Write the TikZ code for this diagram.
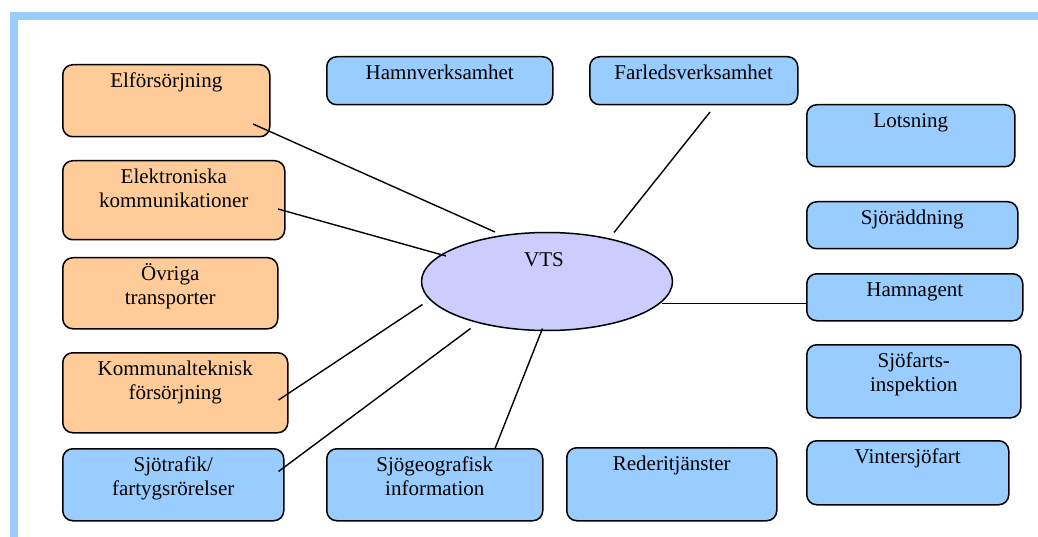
\documentclass[tikz,border=0pt]{standalone}
\usepackage{fontspec}
\setmainfont{Liberation Serif}
\usetikzlibrary{shapes.geometric,calc}
\definecolor{bandblue}{HTML}{99CCFF}
\definecolor{boxblue}{HTML}{99CCFF}
\definecolor{boxorange}{HTML}{FFCC99}
\definecolor{vtsfill}{HTML}{CCCCFF}
\newcommand{\mkbox}[7]{%
  \pgfmathsetmacro{\mkW}{#4-#2}\pgfmathsetmacro{\mkH}{#5-#3}%
  \node[rbox, fill=#6, anchor=north west, minimum width=\mkW pt, minimum height=\mkH pt] (#1) at (#2,#3) {};
  \node[lbl, anchor=north] (#1-t) at ($(#1.north)+(0,6.2)$) {\strut #7};
}
\begin{document}
\begin{tikzpicture}[x=1pt,y=-1pt,
  rbox/.style={draw=black, line width=1.5pt, rounded corners=10pt, inner sep=0pt},
  lbl/.style={font=\fontsize{21}{24}\selectfont, align=center, inner sep=0pt},
  conn/.style={draw=black, line width=1.4pt}]
\useasboundingbox (0,0) rectangle (1038,537);
\fill[white] (0,0) rectangle (1038,537);
\fill[bandblue] (10,12) rectangle (1038,20);
\fill[bandblue] (10,12) rectangle (18,537);

\mkbox{elf}{62}{64}{269}{136}{boxorange}{Elförsörjning}
\mkbox{hamn}{326}{56}{552}{104}{boxblue}{Hamnverksamhet}
\mkbox{farled}{589}{56}{797}{104}{boxblue}{Farledsverksamhet}
\mkbox{lots}{806}{104}{1014}{166}{boxblue}{Lotsning}
\mkbox{elek}{62}{160}{284}{239}{boxorange}{Elektroniska\\kommunikationer}
\mkbox{sjor}{806}{201}{1017}{248}{boxblue}{Sjöräddning}
\mkbox{ovr}{62}{257}{277}{328}{boxorange}{Övriga\\transporter}
\mkbox{hamnag}{806}{273}{1022}{320}{boxblue}{Hamnagent}
\mkbox{komm}{62}{352}{287}{432}{boxorange}{Kommunalteknisk\\försörjning}
\mkbox{sjof}{806}{344}{1020}{417}{boxblue}{Sjöfarts-\\inspektion}
\mkbox{vint}{806}{440}{1008}{504}{boxblue}{Vintersjöfart}
\mkbox{sjot}{62}{448}{283}{520}{boxblue}{Sjötrafik/\\fartygsrörelser}
\mkbox{sjog}{326}{448}{542}{520}{boxblue}{Sjögeografisk\\information}
\mkbox{rede}{566}{447}{776}{520}{boxblue}{Rederitjänster}

\node[ellipse, draw=black, line width=1.5pt, fill=vtsfill, minimum width=251pt, minimum height=98pt, inner sep=0pt] (vts) at (547,281.5) {};
\node[lbl, anchor=base] (vts-t) at (544,266.5) {VTS};

\coordinate (a1) at (253,124);   \coordinate (b1) at (495,232);
\coordinate (a2) at (278,209);   \coordinate (b2) at (446,256);
\coordinate (a3) at (710,112);   \coordinate (b3) at (614,232.5);
\coordinate (a4) at (806,303.5); \coordinate (b4) at (661.5,303.5);
\coordinate (a5) at (278.5,400); \coordinate (b5) at (422.5,304.5);
\coordinate (a6) at (278.5,471.5); \coordinate (b6) at (470.5,328.5);
\coordinate (a7) at (495,448.5); \coordinate (b7) at (542.5,328.5);

\draw[conn] (a1) -- (b1);
\draw[conn] (a2) -- (b2);
\draw[conn] (a3) -- (b3);
\draw[conn] (a4) -- (b4);
\draw[conn] (a5) -- (b5);
\draw[conn] (a6) -- (b6);
\draw[conn] (a7) -- (b7);
\end{tikzpicture}
\end{document}
